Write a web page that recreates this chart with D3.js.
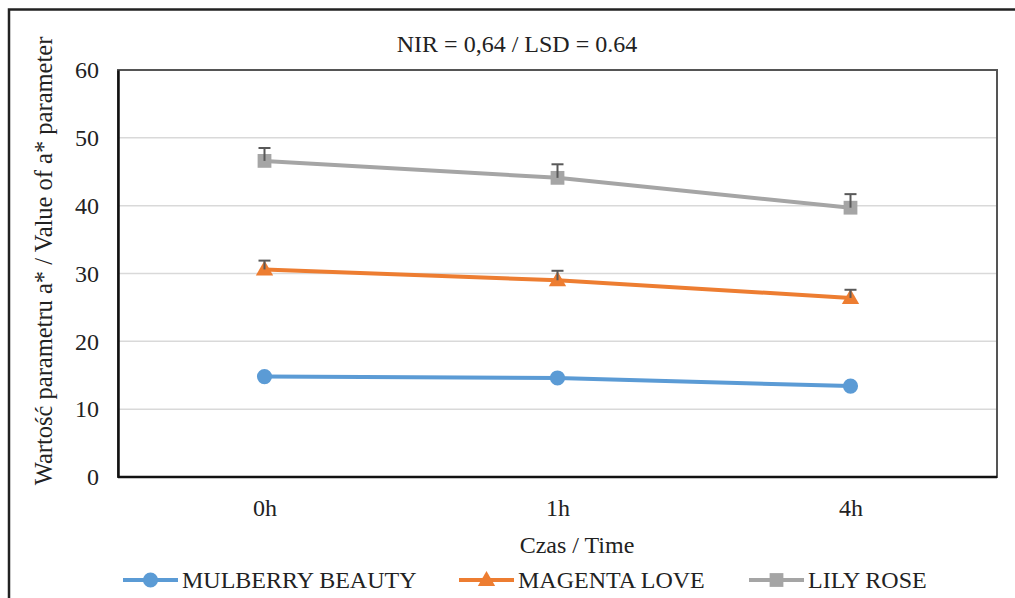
<!DOCTYPE html>
<html>
<head>
<meta charset="utf-8">
<script src="https://cdn.jsdelivr.net/npm/d3@7"></script>
<style>
  body { margin: 0; background: #fff; }
  svg text { font-family: "Liberation Serif", "DejaVu Serif", serif !important; fill: #222; }
</style>
</head>
<body>
<svg id="chart" width="1015" height="598"></svg>
<script>
const categories = ["0h", "1h", "4h"];
const seriesNames = ["MULBERRY BEAUTY", "MAGENTA LOVE", "LILY ROSE"];
const mulberryValues = [14.8, 14.6, 13.4];
const magentaValues = [30.6, 29.0, 26.4];
const lilyValues = [46.6, 44.1, 39.7];
const mulberryErrors = [0, 0, 0];
const magentaErrors = [1.3, 1.4, 1.2];
const lilyErrors = [1.9, 2.0, 2.0];
const yTicks = [0, 10, 20, 30, 40, 50, 60];
const titleText = "NIR = 0,64 / LSD = 0.64";
const xTitle = "Czas / Time";
const yTitle = "Wartość parametru a* / Value of a* parameter";

const FONT = "Liberation Serif";
const FS = "24px";

const series = [
  { name: seriesNames[0], values: mulberryValues, errors: mulberryErrors, color: "#5B9BD5", marker: "circle" },
  { name: seriesNames[1], values: magentaValues, errors: magentaErrors, color: "#ED7D31", marker: "triangle" },
  { name: seriesNames[2], values: lilyValues, errors: lilyErrors, color: "#A5A5A5", marker: "square" }
];

const svg = d3.select("#chart");
const margin = { left: 118, top: 70, right: 997, bottom: 477 };

// outer frame
svg.append("rect")
  .attr("x", 9).attr("y", 9.5)
  .attr("width", 1030).attr("height", 620)
  .attr("fill", "none").attr("stroke", "#222").attr("stroke-width", 2.5);

const x = d3.scalePoint().domain(categories).range([margin.left, margin.right]).padding(0.5);
const y = d3.scaleLinear().domain([0, 60]).range([margin.bottom, margin.top]);

// grid
svg.append("g")
  .selectAll("line")
  .data(yTicks.filter(t => t > 0 && t < 60))
  .enter().append("line")
  .attr("x1", margin.left).attr("x2", margin.right)
  .attr("y1", d => y(d)).attr("y2", d => y(d))
  .attr("stroke", "#d9d9d9").attr("stroke-width", 1.5);

// plot border
svg.append("rect")
  .attr("x", margin.left).attr("y", margin.top)
  .attr("width", margin.right - margin.left).attr("height", margin.bottom - margin.top)
  .attr("fill", "none").attr("stroke", "#555").attr("stroke-width", 2);

// axes
const yAxis = svg.append("g")
  .attr("transform", `translate(${margin.left},0)`)
  .call(d3.axisLeft(y).tickValues(yTicks).tickSize(0).tickPadding(19));
yAxis.attr("font-family", FONT);
yAxis.select(".domain").attr("stroke", "#111").attr("stroke-width", 2.5);
yAxis.selectAll("text").style("font-size", FS).attr("fill", "#222");

const xAxis = svg.append("g")
  .attr("transform", `translate(0,${margin.bottom})`)
  .call(d3.axisBottom(x).tickSize(0).tickPadding(22));
xAxis.attr("font-family", FONT);
xAxis.select(".domain").attr("stroke", "#111").attr("stroke-width", 2.5)
  .attr("d", `M${margin.left},0H${margin.right}`);
xAxis.selectAll("text").style("font-size", FS).attr("fill", "#222");

// titles
svg.append("text")
  .attr("x", 517).attr("y", 52)
  .attr("text-anchor", "middle").style("font-size", FS)
  .text(titleText);

svg.append("text")
  .attr("x", 577).attr("y", 553)
  .attr("text-anchor", "middle").style("font-size", FS)
  .text(xTitle);

svg.append("text")
  .attr("transform", "translate(52,261) rotate(-90)")
  .attr("text-anchor", "middle").style("font-size", "24.5px")
  .text(yTitle);

const symbolFor = m => m === "circle" ? d3.symbolCircle : m === "triangle" ? d3.symbolTriangle : d3.symbolSquare;
const sizeFor = m => m === "circle" ? 180 : m === "triangle" ? 130 : 190;

const line = d3.line()
  .x((d, i) => x(categories[i]))
  .y(d => y(d));

series.forEach(s => {
  svg.append("path")
    .datum(s.values)
    .attr("fill", "none")
    .attr("stroke", s.color)
    .attr("stroke-width", 4)
    .attr("d", line);

  svg.append("g").selectAll("path")
    .data(s.values)
    .enter().append("path")
    .attr("d", d3.symbol().type(symbolFor(s.marker)).size(sizeFor(s.marker)))
    .attr("transform", (d, i) => `translate(${x(categories[i])},${y(d) + (s.marker === "triangle" ? 1 : 0)})`)
    .attr("fill", s.color);

  // upper error bars
  const eb = svg.append("g").attr("stroke", "#595959").attr("stroke-width", 2);
  s.values.forEach((v, i) => {
    if (!s.errors[i]) return;
    const cx = x(categories[i]);
    eb.append("line").attr("x1", cx).attr("x2", cx).attr("y1", y(v)).attr("y2", y(v + s.errors[i]));
    eb.append("line").attr("x1", cx - 6).attr("x2", cx + 6).attr("y1", y(v + s.errors[i])).attr("y2", y(v + s.errors[i]));
  });
});

// legend
const legendX = [123, 459, 749];
const legend = svg.append("g");
series.forEach((s, i) => {
  const g = legend.append("g").attr("transform", `translate(${legendX[i]},580)`);
  g.append("line").attr("x1", 0).attr("x2", 55).attr("y1", 0).attr("y2", 0)
    .attr("stroke", s.color).attr("stroke-width", 4);
  g.append("path")
    .attr("d", d3.symbol().type(symbolFor(s.marker)).size(sizeFor(s.marker)))
    .attr("transform", `translate(27.5,${s.marker === "triangle" ? 1 : 0})`)
    .attr("fill", s.color);
  g.append("text").attr("x", 59).attr("y", 8).attr("font-family", FONT)
    .style("font-size", FS).text(s.name);
});
</script>
</body>
</html>
